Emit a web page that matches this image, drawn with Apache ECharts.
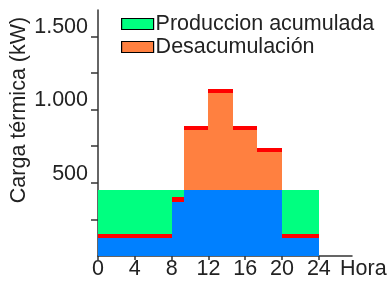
<!DOCTYPE html>
<html>
<head>
<meta charset="utf-8">
<script src="https://cdn.jsdelivr.net/npm/echarts@6/dist/echarts.min.js"></script>
<style>
  html, body { margin: 0; padding: 0; background: #fff; }
  #chart { width: 387px; height: 284px; }
</style>
</head>
<body>
<div id="chart"></div>
<script>
// Hour blocks (start / end)
const hourStart = [0, 8, 9.33, 12, 14.67, 17.33, 20];
const hourEnd = [8, 9.33, 12, 14.67, 17.33, 20, 24];

// kW per block, stacked bottom to top
const blueLoad = [120, 370, 450, 450, 450, 450, 120];
const desacumulacion = [0, 0, 410, 660, 410, 260, 0];
const redStrip = [30, 30, 30, 30, 30, 30, 30];
const produccionAcumulada = [300, 50, 0, 0, 0, 0, 300];

const xTicks = [0, 4, 8, 12, 16, 20, 24];
const yTicks = [250, 500, 750, 1000, 1250, 1500];
const yLabels = [500, 1000, 1500];

const FONT = "'Liberation Sans', Arial, sans-serif";
const FONT_SIZE = 21.5;
const TEXT_COLOR = '#222';

// Build stacked rectangles [x0, x1, y0, y1] for each layer
const layers = [blueLoad, desacumulacion, redStrip, produccionAcumulada];
const stacked = layers.map(() => []);
hourStart.forEach((x0, i) => {
    let base = 0;
    layers.forEach((layer, k) => {
        const v = layer[i];
        if (v > 0) {
            stacked[k].push([x0, hourEnd[i], base, base + v]);
        }
        base += v;
    });
});

// Rounded pixel edges so neighbouring blocks join without seams
function renderRect(params, api) {
    const p0 = api.coord([api.value(0), api.value(3)]);
    const p1 = api.coord([api.value(1), api.value(2)]);
    const x0 = Math.round(p0[0]), y0 = Math.round(p0[1]);
    const x1 = Math.round(p1[0]), y1 = Math.round(p1[1]);
    return {
        type: 'rect',
        shape: { x: x0, y: y0, width: x1 - x0, height: y1 - y0 },
        style: api.style()
    };
}

function makeSeries(name, data, color) {
    return {
        name: name,
        type: 'custom',
        renderItem: renderRect,
        encode: { x: [0, 1], y: [2, 3] },
        itemStyle: { color: color },
        data: data,
        silent: true
    };
}

const chart = echarts.init(document.getElementById('chart'));
chart.setOption({
    animation: false,
    backgroundColor: '#fff',
    grid: { left: 98, right: 35, top: 10, bottom: 28 },
    legend: {
        orient: 'vertical',
        left: 121,
        top: 13,
        padding: 0,
        itemWidth: 32,
        itemHeight: 11,
        itemGap: 1,
        icon: 'rect',
        selectedMode: false,
        textStyle: { fontFamily: FONT, fontSize: FONT_SIZE, color: TEXT_COLOR, lineHeight: 22, padding: [0, 0, 0, -3] },
        data: [
            { name: 'Produccion acumulada', itemStyle: { borderColor: '#000', borderWidth: 1.2 } },
            { name: 'Desacumulación', itemStyle: { borderColor: '#000', borderWidth: 1.2 } }
        ]
    },
    xAxis: {
        type: 'value',
        min: 0,
        max: 27.6,
        splitLine: { show: false },
        axisLine: { lineStyle: { color: '#333', width: 1.5 } },
        axisTick: { customValues: xTicks, length: 4, lineStyle: { color: '#333', width: 1.5 } },
        axisLabel: {
            customValues: xTicks,
            margin: 2,
            fontFamily: FONT, fontSize: FONT_SIZE, color: TEXT_COLOR
        }
    },
    yAxis: {
        type: 'value',
        min: 0,
        max: 1680,
        splitLine: { show: false },
        axisLine: { show: true, lineStyle: { color: '#333', width: 1.5 } },
        axisTick: { show: true, customValues: yTicks, length: 7, lineStyle: { color: '#333', width: 1.5 } },
        axisLabel: {
            customValues: yLabels,
            margin: 10,
            verticalAlign: 'bottom',
            lineHeight: 18,
            fontFamily: FONT, fontSize: FONT_SIZE, color: TEXT_COLOR,
            formatter: v => v >= 1000 ? Math.floor(v / 1000) + '.' + String(v % 1000).padStart(3, '0') : String(v)
        }
    },
    graphic: [
        {
            type: 'text',
            x: 19, y: 110,
            rotation: Math.PI / 2,
            style: {
                text: 'Carga térmica (kW)',
                font: FONT_SIZE + 'px ' + FONT,
                fill: TEXT_COLOR,
                align: 'center',
                verticalAlign: 'middle'
            }
        },
        {
            type: 'text',
            x: 340, y: 269,
            style: {
                text: 'Hora',
                font: FONT_SIZE + 'px ' + FONT,
                fill: TEXT_COLOR,
                align: 'left',
                verticalAlign: 'middle'
            }
        }
    ],
    series: [
        makeSeries('Consumo', stacked[0], '#0080ff'),
        makeSeries('Desacumulación', stacked[1], '#ff8040'),
        makeSeries('Pérdidas', stacked[2], '#ff0000'),
        makeSeries('Produccion acumulada', stacked[3], '#00ff80')
    ]
});
</script>
</body>
</html>
